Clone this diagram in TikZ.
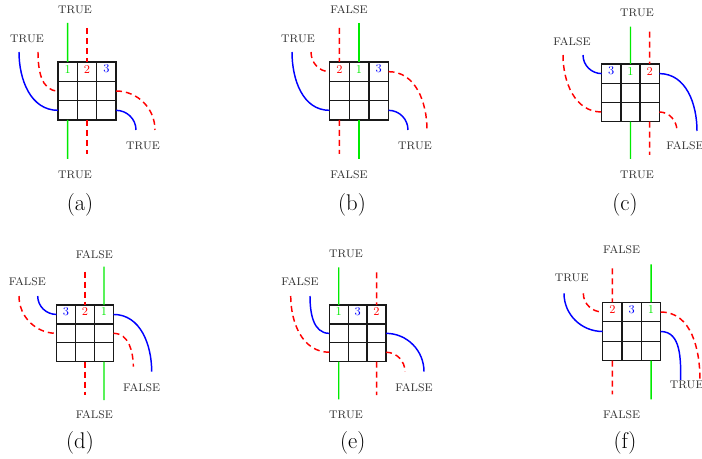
\documentclass[tikz,border=0pt]{standalone}
\usetikzlibrary{calc}
\definecolor{wgreen}{RGB}{0,235,0}
\definecolor{lblgray}{RGB}{45,45,45}
\definecolor{gridgray}{RGB}{25,25,25}
\tikzset{
 gridline/.style={color=gridgray, line width=1pt},
 greenwire/.style={color=wgreen, line width=1.1pt},
 redwire/.style={color=red, line width=1.1pt, dash pattern=on 4.5pt off 3pt},
 bluewire/.style={color=blue, line width=1.1pt},
 lbl/.style={font=\fontsize{8.3}{10}\selectfont, color=lblgray, inner sep=0pt},
 num/.style={font=\fontsize{9}{10}\selectfont, inner sep=0pt, yshift=1.9pt},
 capt/.style={font=\fontsize{17}{20}\selectfont, color=black, inner sep=0pt},
}
\newcommand\cellgrid[5]{%
 \coordinate (#1-nw) at (#2,#3);
 \coordinate (#1-ne) at (#4,#3);
 \coordinate (#1-sw) at (#2,#5);
 \coordinate (#1-se) at (#4,#5);
 \draw[gridline] (#1-nw) rectangle (#1-se);
 \foreach \k in {1,2}{
   \draw[gridline] ($(#1-nw)!{\k/3}!(#1-ne)$) -- ($(#1-sw)!{\k/3}!(#1-se)$);
   \draw[gridline] ($(#1-nw)!{\k/3}!(#1-sw)$) -- ($(#1-ne)!{\k/3}!(#1-se)$);
 }
 \foreach \k in {1,2,3}{
   \coordinate (#1-t\k) at ($(#1-nw)!{(\k-0.5)/3}!(#1-ne)$);
   \coordinate (#1-b\k) at ($(#1-sw)!{(\k-0.5)/3}!(#1-se)$);
   \coordinate (#1-l\k) at ($(#1-nw)!{(\k-0.5)/3}!(#1-sw)$);
   \coordinate (#1-r\k) at ($(#1-ne)!{(\k-0.5)/3}!(#1-se)$);
 }
}
\begin{document}
\begin{tikzpicture}[x=0.75pt,y=-0.75pt]
\useasboundingbox (0,0) rectangle (702,459);

% ---------- (a)
\cellgrid{a}{58}{62}{116}{120}
\node[num,color=wgreen] (a-n1) at (a-t1 |- a-l1) {1};
\node[num,color=red] (a-n2) at (a-t2 |- a-l1) {2};
\node[num,color=blue] (a-n3) at (a-t3 |- a-l1) {3};
\coordinate (a-gT) at (67.67,23); \coordinate (a-gB) at (67.67,159);
\draw[greenwire] (a-gT) -- (a-t1); \draw[greenwire] (a-b1) -- (a-gB);
\coordinate (a-rT) at (87,28); \coordinate (a-rB) at (87,154);
\draw[redwire] (a-rT) -- (a-t2); \draw[redwire] (a-b2) -- (a-rB);
\coordinate (a-bL) at (19,52); \draw[bluewire] (a-bL) to[out=-90,in=180] (a-l3);
\coordinate (a-rL) at (38,52); \draw[redwire] (a-rL) to[out=-90,in=180] (a-l2);
\coordinate (a-rR) at (155,130); \draw[redwire] (a-r2) to[out=0,in=90] (a-rR);
\coordinate (a-bR) at (136,130); \draw[bluewire] (a-r3) to[out=0,in=90] (a-bR);
\node[lbl] (a-top) at (75,10) {TRUE};
\node[lbl] (a-bot) at (75,175) {TRUE};
\node[lbl] (a-left) at (27,39) {TRUE};
\node[lbl] (a-right) at (143,146) {TRUE};
\node[capt] (a-cap) at (80,205) {(a)};

% ---------- (b)
\cellgrid{b}{329.5}{62}{388.5}{120}
\node[num,color=red] (b-n1) at (b-t1 |- b-l1) {2};
\node[num,color=wgreen] (b-n2) at (b-t2 |- b-l1) {1};
\node[num,color=blue] (b-n3) at (b-t3 |- b-l1) {3};
\coordinate (b-rT) at (339.33,28); \coordinate (b-rB) at (339.33,154);
\draw[redwire] (b-rT) -- (b-t1); \draw[redwire] (b-b1) -- (b-rB);
\coordinate (b-gT) at (359,23); \coordinate (b-gB) at (359,159);
\draw[greenwire] (b-gT) -- (b-t2); \draw[greenwire] (b-b2) -- (b-gB);
\coordinate (b-bL) at (292,52); \draw[bluewire] (b-bL) to[out=-90,in=180] (b-l3);
\coordinate (b-rL) at (311,52); \draw[redwire] (b-rL) to[out=-90,in=180] (b-l1);
\coordinate (b-rR) at (427,130); \draw[redwire] (b-r1) to[out=0,in=90] (b-rR);
\coordinate (b-bR) at (408,130); \draw[bluewire] (b-r3) to[out=0,in=90] (b-bR);
\node[lbl] (b-top) at (349,10) {FALSE};
\node[lbl] (b-bot) at (349,175) {FALSE};
\node[lbl] (b-left) at (298,39) {TRUE};
\node[lbl] (b-right) at (415,146) {TRUE};
\node[capt] (b-cap) at (352,205) {(b)};

% ---------- (c)
\cellgrid{c}{601.7}{64}{659.3}{121.6}
\node[num,color=blue] (c-n1) at (c-t1 |- c-l1) {3};
\node[num,color=wgreen] (c-n2) at (c-t2 |- c-l1) {1};
\node[num,color=red] (c-n3) at (c-t3 |- c-l1) {2};
\coordinate (c-gT) at (630.5,26.7); \coordinate (c-gB) at (630.5,159);
\draw[greenwire] (c-gT) -- (c-t2); \draw[greenwire] (c-b2) -- (c-gB);
\coordinate (c-rT) at (649.7,31.7); \coordinate (c-rB) at (649.7,155);
\draw[redwire] (c-rT) -- (c-t3); \draw[redwire] (c-b3) -- (c-rB);
\coordinate (c-bL) at (583,55); \draw[bluewire] (c-bL) to[out=-90,in=180] (c-l1);
\coordinate (c-rL) at (563,55); \draw[redwire] (c-rL) to[out=-90,in=180] (c-l3);
\coordinate (c-bR) at (697,131); \draw[bluewire] (c-r1) to[out=0,in=90] (c-bR);
\coordinate (c-rR) at (677,131); \draw[redwire] (c-r3) to[out=0,in=90] (c-rR);
\node[lbl] (c-top) at (637,13) {TRUE};
\node[lbl] (c-bot) at (637,175) {TRUE};
\node[lbl] (c-left) at (572,42) {FALSE};
\node[lbl] (c-right) at (685,146) {FALSE};
\node[capt] (c-cap) at (625,205) {(c)};

% ---------- (d)
\cellgrid{d}{56.5}{305}{113.5}{361.7}
\node[num,color=blue] (d-n1) at (d-t1 |- d-l1) {3};
\node[num,color=red] (d-n2) at (d-t2 |- d-l1) {2};
\node[num,color=wgreen] (d-n3) at (d-t3 |- d-l1) {1};
\coordinate (d-rT) at (85,271.7); \coordinate (d-rB) at (85,395);
\draw[redwire] (d-rT) -- (d-t2); \draw[redwire] (d-b2) -- (d-rB);
\coordinate (d-gT) at (104,266.7); \coordinate (d-gB) at (104,400);
\draw[greenwire] (d-gT) -- (d-t3); \draw[greenwire] (d-b3) -- (d-gB);
\coordinate (d-rL) at (19,296); \draw[redwire] (d-rL) to[out=-90,in=180] (d-l2);
\coordinate (d-bL) at (37.7,296); \draw[bluewire] (d-bL) to[out=-90,in=180] (d-l1);
\coordinate (d-bR) at (151.7,371.7); \draw[bluewire] (d-r1) to[out=0,in=90] (d-bR);
\coordinate (d-rR) at (133.3,366.7); \draw[redwire] (d-r2) to[out=0,in=90] (d-rR);
\node[lbl] (d-top) at (94.3,254.3) {FALSE};
\node[lbl] (d-bot) at (94.3,415) {FALSE};
\node[lbl] (d-left) at (27.3,281.7) {FALSE};
\node[lbl] (d-right) at (141.7,387.3) {FALSE};
\node[capt] (d-cap) at (80,442.5) {(d)};

% ---------- (e)
\cellgrid{e}{329.3}{305}{386}{361.7}
\node[num,color=wgreen] (e-n1) at (e-t1 |- e-l1) {1};
\node[num,color=blue] (e-n2) at (e-t2 |- e-l1) {3};
\node[num,color=red] (e-n3) at (e-t3 |- e-l1) {2};
\coordinate (e-gT) at (338.75,267.3); \coordinate (e-gB) at (338.75,399.3);
\draw[greenwire] (e-gT) -- (e-t1); \draw[greenwire] (e-b1) -- (e-gB);
\coordinate (e-rT) at (376.55,272.3); \coordinate (e-rB) at (376.55,395);
\draw[redwire] (e-rT) -- (e-t3); \draw[redwire] (e-b3) -- (e-rB);
\coordinate (e-rL) at (290.7,296); \draw[redwire] (e-rL) to[out=-90,in=180] (e-l3);
\coordinate (e-bL) at (310,296); \draw[bluewire] (e-bL) to[out=-90,in=180] (e-l2);
\coordinate (e-bR) at (424,371.7); \draw[bluewire] (e-r2) to[out=0,in=90] (e-bR);
\coordinate (e-rR) at (405,371.7); \draw[redwire] (e-r3) to[out=0,in=90] (e-rR);
\node[lbl] (e-top) at (346,254) {TRUE};
\node[lbl] (e-bot) at (346,415) {TRUE};
\node[lbl] (e-left) at (300,281.7) {FALSE};
\node[lbl] (e-right) at (414,387.3) {FALSE};
\node[capt] (e-cap) at (352.7,442.5) {(e)};

% ---------- (f)
\cellgrid{f}{602.7}{302.3}{660.7}{360.7}
\node[num,color=red] (f-n1) at (f-t1 |- f-l1) {2};
\node[num,color=blue] (f-n2) at (f-t2 |- f-l1) {3};
\node[num,color=wgreen] (f-n3) at (f-t3 |- f-l1) {1};
\coordinate (f-rT) at (612.37,268.3); \coordinate (f-rB) at (612.37,394.3);
\draw[redwire] (f-rT) -- (f-t1); \draw[redwire] (f-b1) -- (f-rB);
\coordinate (f-gT) at (651.03,264.3); \coordinate (f-gB) at (651.03,399.3);
\draw[greenwire] (f-gT) -- (f-t3); \draw[greenwire] (f-b3) -- (f-gB);
\coordinate (f-rL) at (583.3,293.3); \draw[redwire] (f-rL) to[out=-90,in=180] (f-l1);
\coordinate (f-bL) at (564,293.3); \draw[bluewire] (f-bL) to[out=-90,in=180] (f-l2);
\coordinate (f-rR) at (700,380); \draw[redwire] (f-r1) to[out=0,in=90] (f-rR);
\coordinate (f-bR) at (680.7,380); \draw[bluewire] (f-r2) to[out=0,in=90] (f-bR);
\node[lbl] (f-top) at (621.7,250) {FALSE};
\node[lbl] (f-bot) at (621.7,415) {FALSE};
\node[lbl] (f-left) at (571.7,278.3) {TRUE};
\node[lbl] (f-right) at (686.7,385) {TRUE};
\node[capt] (f-cap) at (625,442.5) {(f)};
\end{tikzpicture}
\end{document}
